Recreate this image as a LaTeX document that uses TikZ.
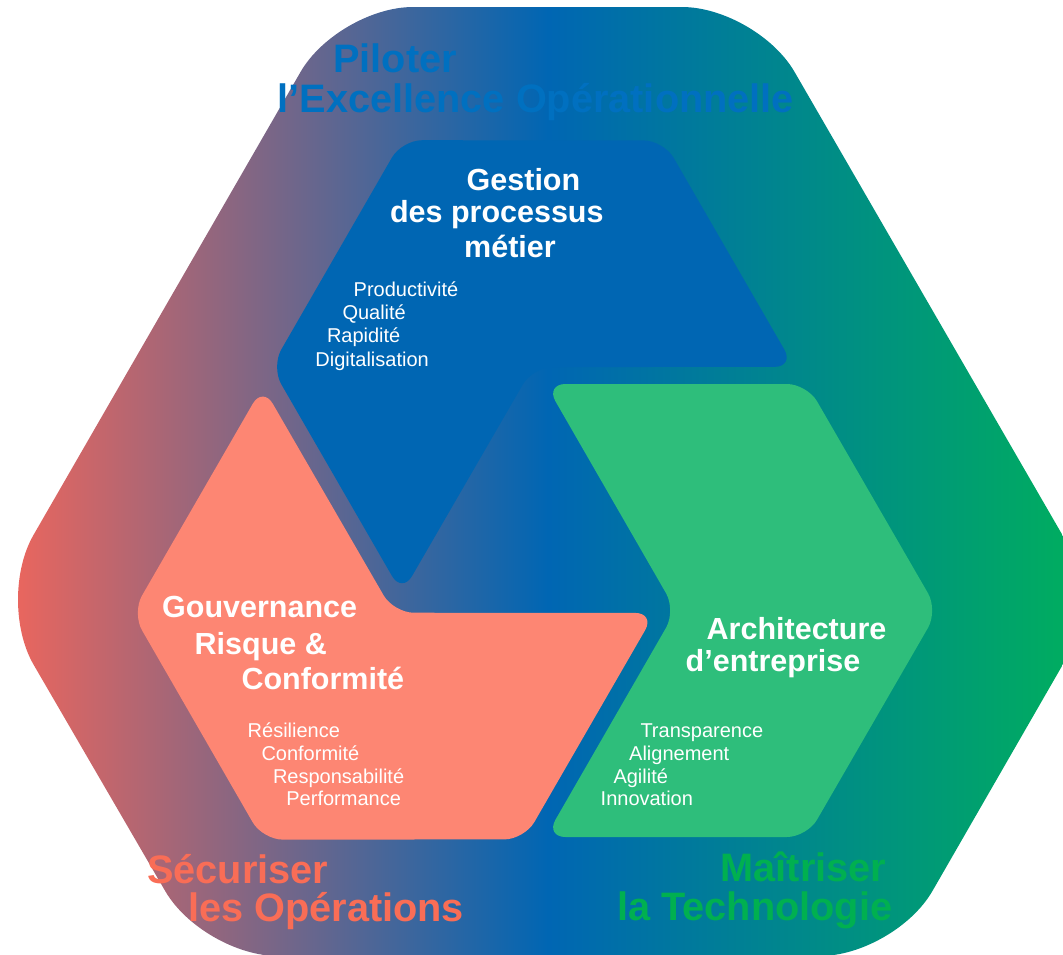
\documentclass[tikz,border=0pt]{standalone}
\usepackage{fontspec}
\setmainfont{Liberation Sans}
\definecolor{bgL}{HTML}{F2665B}
\definecolor{bgM}{HTML}{0066B3}
\definecolor{bgR}{HTML}{00B15B}
\definecolor{blu}{HTML}{0066B3}
\definecolor{grn}{HTML}{2EBE7B}
\definecolor{sal}{HTML}{FD8673}
\definecolor{piloC}{HTML}{0070C0}
\definecolor{secC}{HTML}{F96D56}
\definecolor{maiC}{HTML}{00B050}
\begin{document}
\begin{tikzpicture}[x=1pt,y=1pt,
  big/.style={font=\fontsize{39.7}{41}\selectfont\bfseries, anchor=base west, inner sep=0pt},
  ttl/.style={font=\fontsize{30.5}{32}\selectfont\bfseries, text=white, anchor=base west, inner sep=0pt},
  itm/.style={font=\fontsize{20}{22}\selectfont, text=white, anchor=base west, inner sep=0pt},
  chev/.style={rounded corners=20pt}]
\useasboundingbox (0,0) rectangle (1063,-954);
\coordinate (C) at (534.2,-530.1);
% outer hexagon with gradient
\begin{scope}
\clip[rounded corners=75pt]
  (338,-7) -- (757,-7) -- (1100,-600) -- (895,-956) -- (203,-956) -- (-4,-600) -- cycle;
\shade[left color=bgL, right color=bgR, middle color=bgM] (-4,0) rectangle (1100,-960);
\end{scope}
% green chevron
\fill[grn, chev]
  (545.5,-384) -- (807,-384) -- (938,-610.5) -- (807,-837) -- (545.5,-837) -- (676,-610.5) -- cycle;
% blue chevron (rotated 120)
\fill[blu, chev, rotate around={120:(C)}]
  (545.5,-384) -- (807,-384) -- (938,-610.5) -- (807,-837) -- (545.5,-837) -- (676,-610.5) -- cycle;
% salmon chevron (rotated 240)
\fill[sal, chev, rotate around={240:(C)}]
  (545.5,-384) -- (807,-384) -- (938,-610.5) -- (807,-837) -- (545.5,-837) -- (676,-610.5) -- cycle;
% outer labels
\node[big, text=piloC] (p1) at (333,-72) {Piloter};
\node[big, text=piloC] (p2) at (277.5,-112) {l’Excellence Opérationnelle};
\node[big, text=secC] (s1) at (147,-883) {Sécuriser};
\node[big, text=secC] (s2) at (188,-921) {les Opérations};
\node[big, text=maiC] (m1) at (720.4,-881) {Maîtriser};
\node[big, text=maiC] (m2) at (617,-920) {la Technologie};
% titles
\node[ttl] (g1) at (466.5,-190) {Gestion};
\node[ttl] (g2) at (389.8,-222.7) {des processus};
\node[ttl] (g3) at (464,-257.3) {métier};
\node[ttl] (r1) at (162,-617.3) {Gouvernance};
\node[ttl] (r2) at (194.5,-654) {Risque \&};
\node[ttl] (r3) at (241.3,-689.3) {Conformité};
\node[ttl] (a1) at (706.5,-639.3) {Architecture};
\node[ttl] (a2) at (685.5,-671.7) {d’entreprise};
% items
\node[itm] (gi1) at (353.5,-296.7) {Productivité};
\node[itm] (gi2) at (342.3,-319.3) {Qualité};
\node[itm] (gi3) at (326.8,-342.7) {Rapidité};
\node[itm] (gi4) at (315.2,-366.7) {Digitalisation};
\node[itm] (ri1) at (247.5,-737.7) {Résilience};
\node[itm] (ri2) at (261.3,-760.3) {Conformité};
\node[itm] (ri3) at (272.8,-783.3) {Responsabilité};
\node[itm] (ri4) at (286.2,-805) {Performance};
\node[itm] (ai1) at (640.3,-737.7) {Transparence};
\node[itm] (ai2) at (629,-760) {Alignement};
\node[itm] (ai3) at (613.3,-783.3) {Agilité};
\node[itm] (ai4) at (600.5,-805) {Innovation};
\end{tikzpicture}
\end{document}
